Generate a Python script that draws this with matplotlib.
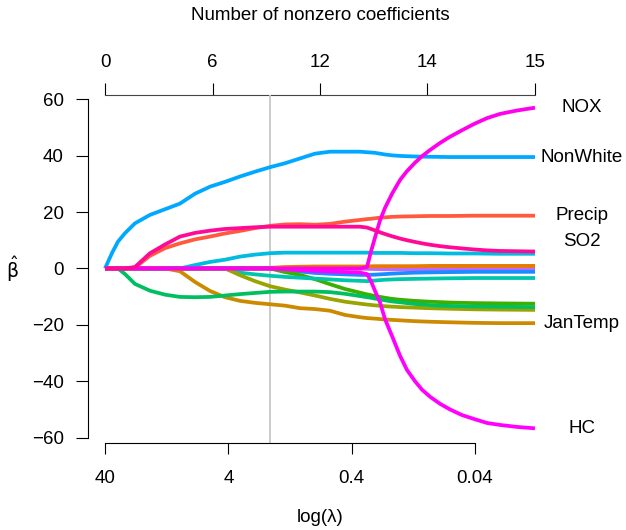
import numpy as np
import matplotlib.pyplot as plt

plt.rcParams['font.family'] = ['Liberation Sans', 'DejaVu Sans']
plt.rcParams['font.size'] = 13.5
plt.rcParams['mathtext.fontset'] = 'dejavusans'

# log10(lambda) along the lasso path
log_lambda = [1.602, 1.545, 1.497, 1.440, 1.359, 1.237, 1.115, 0.994, 0.872, 0.750,
              0.629, 0.507, 0.386, 0.264, 0.142, 0.021, -0.101, -0.223, -0.345, -0.466,
              -0.523, -0.555, -0.588, -0.628, -0.669, -0.726, -0.791, -0.847, -0.912,
              -0.969, -1.034, -1.115, -1.196, -1.293, -1.399, -1.496, -1.602, -1.739, -1.885]

# coefficient paths
Over65 = [0] * 31 + [0.05, 0.1, 0.15, 0.2, 0.25, 0.3, 0.3, 0.3]
WhiteCollar = [0] * 20 + [-0.1, -0.15, -0.2, -0.25] + [-0.3] * 15
Poor = [0] * 13 + [0.2, 0.5, 0.6, 0.7, 0.7, 0.7, 0.7,
                   0.7, 0.75, 0.8, 0.8, 0.8, 0.8, 0.8, 0.8, 0.8, 0.85, 0.9, 0.9, 0.9,
                   0.9, 0.9, 0.9, 0.9, 0.9, 0.9]
House = [0] * 14 + [-0.5, -1.1, -1.6, -1.9, -2.1, -2.3,
                    -2.3, -2.25, -2.2, -2.1, -2.0, -1.85, -1.7, -1.6, -1.5, -1.45, -1.4,
                    -1.35, -1.3, -1.25, -1.2, -1.2, -1.2, -1.2, -1.2]
Humid = [0] * 14 + [-1.3, -2.3, -3.8, -5.6, -7.3, -8.6,
                    -9.2, -9.5, -9.8, -10.1, -10.4, -10.8, -11.1, -11.3, -11.5, -11.65,
                    -11.8, -11.95, -12.1, -12.2, -12.3, -12.35, -12.4, -12.45, -12.5]
Sound = [0] * 11 + [-1.5, -2.1, -2.6, -3.0, -3.3, -3.6, -3.9, -4.2, -4.4,
                    -4.5, -4.4, -4.3, -4.15, -4.0, -3.9, -3.8, -3.75, -3.7, -3.65, -3.6,
                    -3.55, -3.5, -3.45, -3.4, -3.4, -3.4, -3.4, -3.4]
JulyTemp = [0] * 11 + [-2.4, -4.5, -6.3, -7.5, -8.5, -9.6, -10.8, -11.8, -12.5,
                       -12.8, -12.95, -13.1, -13.25, -13.4, -13.55, -13.7, -13.8, -13.9,
                       -14.0, -14.1, -14.2, -14.3, -14.4, -14.5, -14.55, -14.6, -14.65, -14.7]
Density = [0] * 8 + [1.2, 2.3, 3.1, 4.2, 4.9, 5.4, 5.6, 5.6, 5.6, 5.6, 5.6, 5.6,
                     5.6, 5.55, 5.5, 5.5, 5.5, 5.5, 5.5, 5.45, 5.4, 5.4, 5.4, 5.35, 5.3,
                     5.3, 5.3, 5.25, 5.2, 5.2, 5.2]
JanTemp = [0] * 7 + [-1, -4.8, -8, -10.2, -11.5, -12.2, -12.7, -13.2, -14.1, -14.4, -15,
                     -16.5, -17.3,
                     -17.6, -17.7, -17.8, -17.95, -18.1, -18.25, -18.4, -18.55, -18.7,
                     -18.8, -18.9, -19.0, -19.1, -19.2, -19.3, -19.35, -19.4, -19.4, -19.4]
Educ = [0, 0, 0, -2, -5.5, -7.9, -9.3, -10.1, -10.2, -10.1, -9.6, -9.1, -8.7, -8.3, -8.2,
        -8.2, -8.2, -8.4, -9, -9.8,
        -10.2, -10.4, -10.7, -11, -11.3, -11.7, -12, -12.3, -12.6, -12.8, -13, -13.2,
        -13.3, -13.4, -13.5, -13.55, -13.6, -13.65, -13.7]
NonWhite = [0, 5.5, 9.5, 12.5, 16, 19, 21, 23, 26.5, 29, 30.7, 32.6, 34.3, 35.9, 37.3, 39,
            40.7, 41.4, 41.4, 41.4,
            41.2, 41.1, 41, 40.7, 40.4, 40.1, 39.9, 39.8, 39.7, 39.65, 39.6, 39.55, 39.5,
            39.5, 39.5, 39.5, 39.5, 39.5, 39.5]
Precip = [0, 0, 0, 0, 0.3, 4.5, 7.2, 8.9, 10.3, 11.3, 12.4, 13.3, 14.3, 15.1, 15.6, 15.7,
          15.5, 15.8, 16.6, 17.2,
          17.5, 17.6, 17.8, 18.0, 18.1, 18.3, 18.4, 18.45, 18.5, 18.55, 18.6, 18.6, 18.6,
          18.65, 18.7, 18.7, 18.7, 18.7, 18.7]
HC = [0] * 14 + [-0.3, -0.6, -0.9, -1.1, -1.3, -1.5,
                 -2, -4.5, -8, -12, -18, -24, -31, -36, -40, -43, -45.5, -48, -50, -52,
                 -53.5, -54.8, -55.5, -56.2, -56.7]
NOX = [0] * 20 + [0.5, 6, 11, 17, 21.5, 26.5, 31.4, 34.5, 37.5, 39.8, 42, 44.5, 46.7, 49,
                  51.4, 53.3, 54.8, 56, 57]
SO2 = [0, 0, 0, 0, 0.5, 5.4, 8.5, 11.3, 12.6, 13.4, 14, 14.3, 14.6, 14.8, 14.8, 14.8, 14.8,
       14.8, 14.8, 14.8,
       14.5, 14, 13.5, 12.8, 12.2, 11.4, 10.6, 10, 9.4, 8.9, 8.4, 7.9, 7.5, 7.1, 6.7, 6.4,
       6.2, 6.1, 6.0]

paths = [
    ("Over65", Over65, "#8BAE00"),
    ("WhiteCollar", WhiteCollar, "#BF67FF"),
    ("Poor", Poor, "#E87A00"),
    ("House", House, "#198CFF"),
    ("Humid", Humid, "#3DAF00"),
    ("Sound", Sound, "#00C6AC"),
    ("JulyTemp", JulyTemp, "#9AA400"),
    ("Density", Density, "#00BCE0"),
    ("JanTemp", JanTemp, "#CC8A00"),
    ("Educ", Educ, "#00BF60"),
    ("NonWhite", NonWhite, "#00A9FF"),
    ("Precip", Precip, "#FF5A3E"),
    ("HC", HC, "#FF00FF"),
    ("NOX", NOX, "#FF00EC"),
    ("SO2", SO2, "#FF0A96"),
]
labelled = ["NOX", "NonWhite", "Precip", "SO2", "JanTemp", "HC"]
label_nudge = {"SO2": 3.4}

lambda_ticks = [40, 4, 0.4, 0.04]
nz_labels = ["0", "6", "12", "14", "15"]
lambda_sel = 1.84

fig = plt.figure(figsize=(6.26, 5.30), dpi=100)
ax = fig.add_axes([88 / 626, 1 - 443 / 530, 464 / 626, 348 / 530])

for name, vals, col in paths:
    ax.plot(log_lambda, vals, color=col, lw=2.7, solid_capstyle='butt',
            solid_joinstyle='round', zorder=3)

ax.axvline(np.log10(lambda_sel), color="#C8C8C8", lw=1.3, zorder=1)

x_end = log_lambda[-1]
for name, vals, col in paths:
    if name in labelled:
        ax.text(-2.267, vals[-1] + label_nudge.get(name, 0), name, ha='center',
                va='center', clip_on=False)

ax.set_xlim(1.740, -2.023)
ax.set_ylim(-61.9, 61.5)

ax.spines['right'].set_visible(False)
ax.spines['top'].set_visible(False)
ax.spines['left'].set_bounds(-60, 60)
ax.spines['bottom'].set_bounds(np.log10(40), np.log10(0.04))

ax.set_yticks(np.arange(-60, 61, 20))
ax.set_xticks(np.log10(lambda_ticks))
ax.set_xticklabels([str(t) for t in lambda_ticks])
ax.tick_params(axis='y', length=8.5, pad=9)
ax.tick_params(axis='x', length=7.7, pad=12)

sec = ax.secondary_xaxis('top')
sec.set_xticks(np.linspace(log_lambda[0], x_end, len(nz_labels)))
sec.set_xticklabels(nz_labels)
sec.tick_params(length=8.5, pad=9)
sec.spines['top'].set_bounds(log_lambda[0], x_end)
sec.spines['top'].set_color('#444444')

ax.set_ylabel(r'$\hat{\mathrm{\beta}}$', rotation=0, va='center', ha='center')
ax.yaxis.set_label_coords(-0.162, 0.5)

fig.text(320 / 626, 1 - 15 / 530, "Number of nonzero coefficients", ha='center', va='center')
fig.text(320 / 626, 1 - 518 / 530, "log(λ)", ha='center', va='center')

plt.savefig("out.png", dpi=100)
